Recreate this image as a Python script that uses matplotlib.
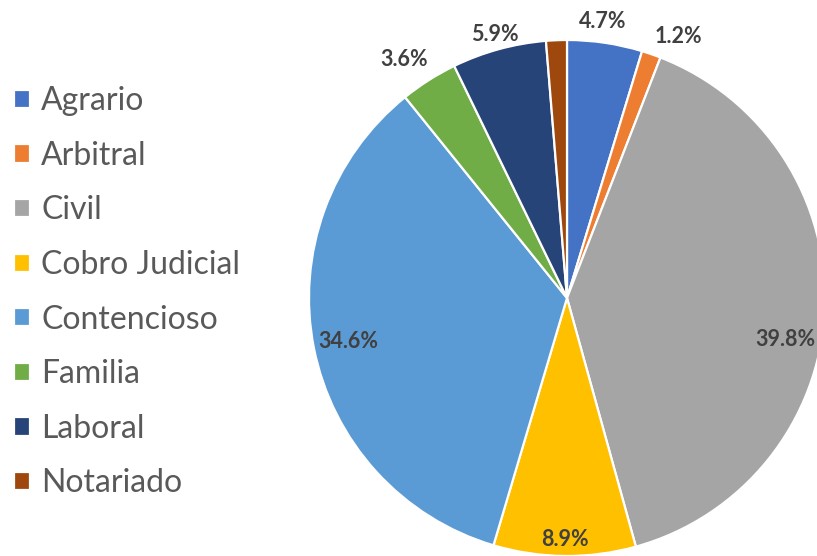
import matplotlib
matplotlib.use("Agg")
import matplotlib.pyplot as plt
import numpy as np

categories = ["Agrario", "Arbitral", "Civil", "Cobro Judicial", "Contencioso",
              "Familia", "Laboral", "Notariado"]
values = [4.7, 1.2, 39.8, 8.9, 34.6, 3.6, 5.9, 1.3]
labels = ["4.7%", "1.2%", "39.8%", "8.9%", "34.6%", "3.6%", "5.9%", ""]

colors = ["#4472C4", "#ED7D31", "#A5A5A5", "#FFC000", "#5B9BD5",
          "#70AD47", "#264478", "#9E480E"]
label_dist = [1.08, 1.10, 0.86, 0.935, 0.865, 1.12, 1.06, 1.1]
label_shift = [1, -4, -8, 0, 0, 2, 0, 0]  # degrees

plt.rcParams['font.family'] = ['Lato', 'DejaVu Sans']

W, H = 817, 556
fig = plt.figure(figsize=(W / 100, H / 100), dpi=100)
ax = fig.add_axes([0, 0, 1, 1])

cx, cy, R = 567, H - 298, 258
wedges, _ = ax.pie(values, colors=colors, startangle=90, counterclock=False,
                   center=(cx, cy), radius=R, frame=True,
                   wedgeprops=dict(edgecolor='white', linewidth=1.6))
ax.set_xlim(0, W)
ax.set_ylim(0, H)
ax.set_aspect('equal')
ax.axis('off')

for w, lab, d, s in zip(wedges, labels, label_dist, label_shift):
    if not lab:
        continue
    ang = np.deg2rad((w.theta1 + w.theta2) / 2 + s)
    x = cx + R * d * np.cos(ang)
    y = cy + R * d * np.sin(ang)
    ax.text(x, y, lab, ha='center', va='center', fontsize=15.5,
            fontweight='bold', color='#404040')

leg = ax.legend(wedges, categories, loc='upper left',
                bbox_to_anchor=(0.017, 0.845), frameon=False,
                fontsize=23, labelcolor='#595959', handlelength=0.5,
                handleheight=0.5, handletextpad=0.35, labelspacing=0.77,
                borderpad=0, borderaxespad=0)

fig.savefig("out.png", dpi=100)
